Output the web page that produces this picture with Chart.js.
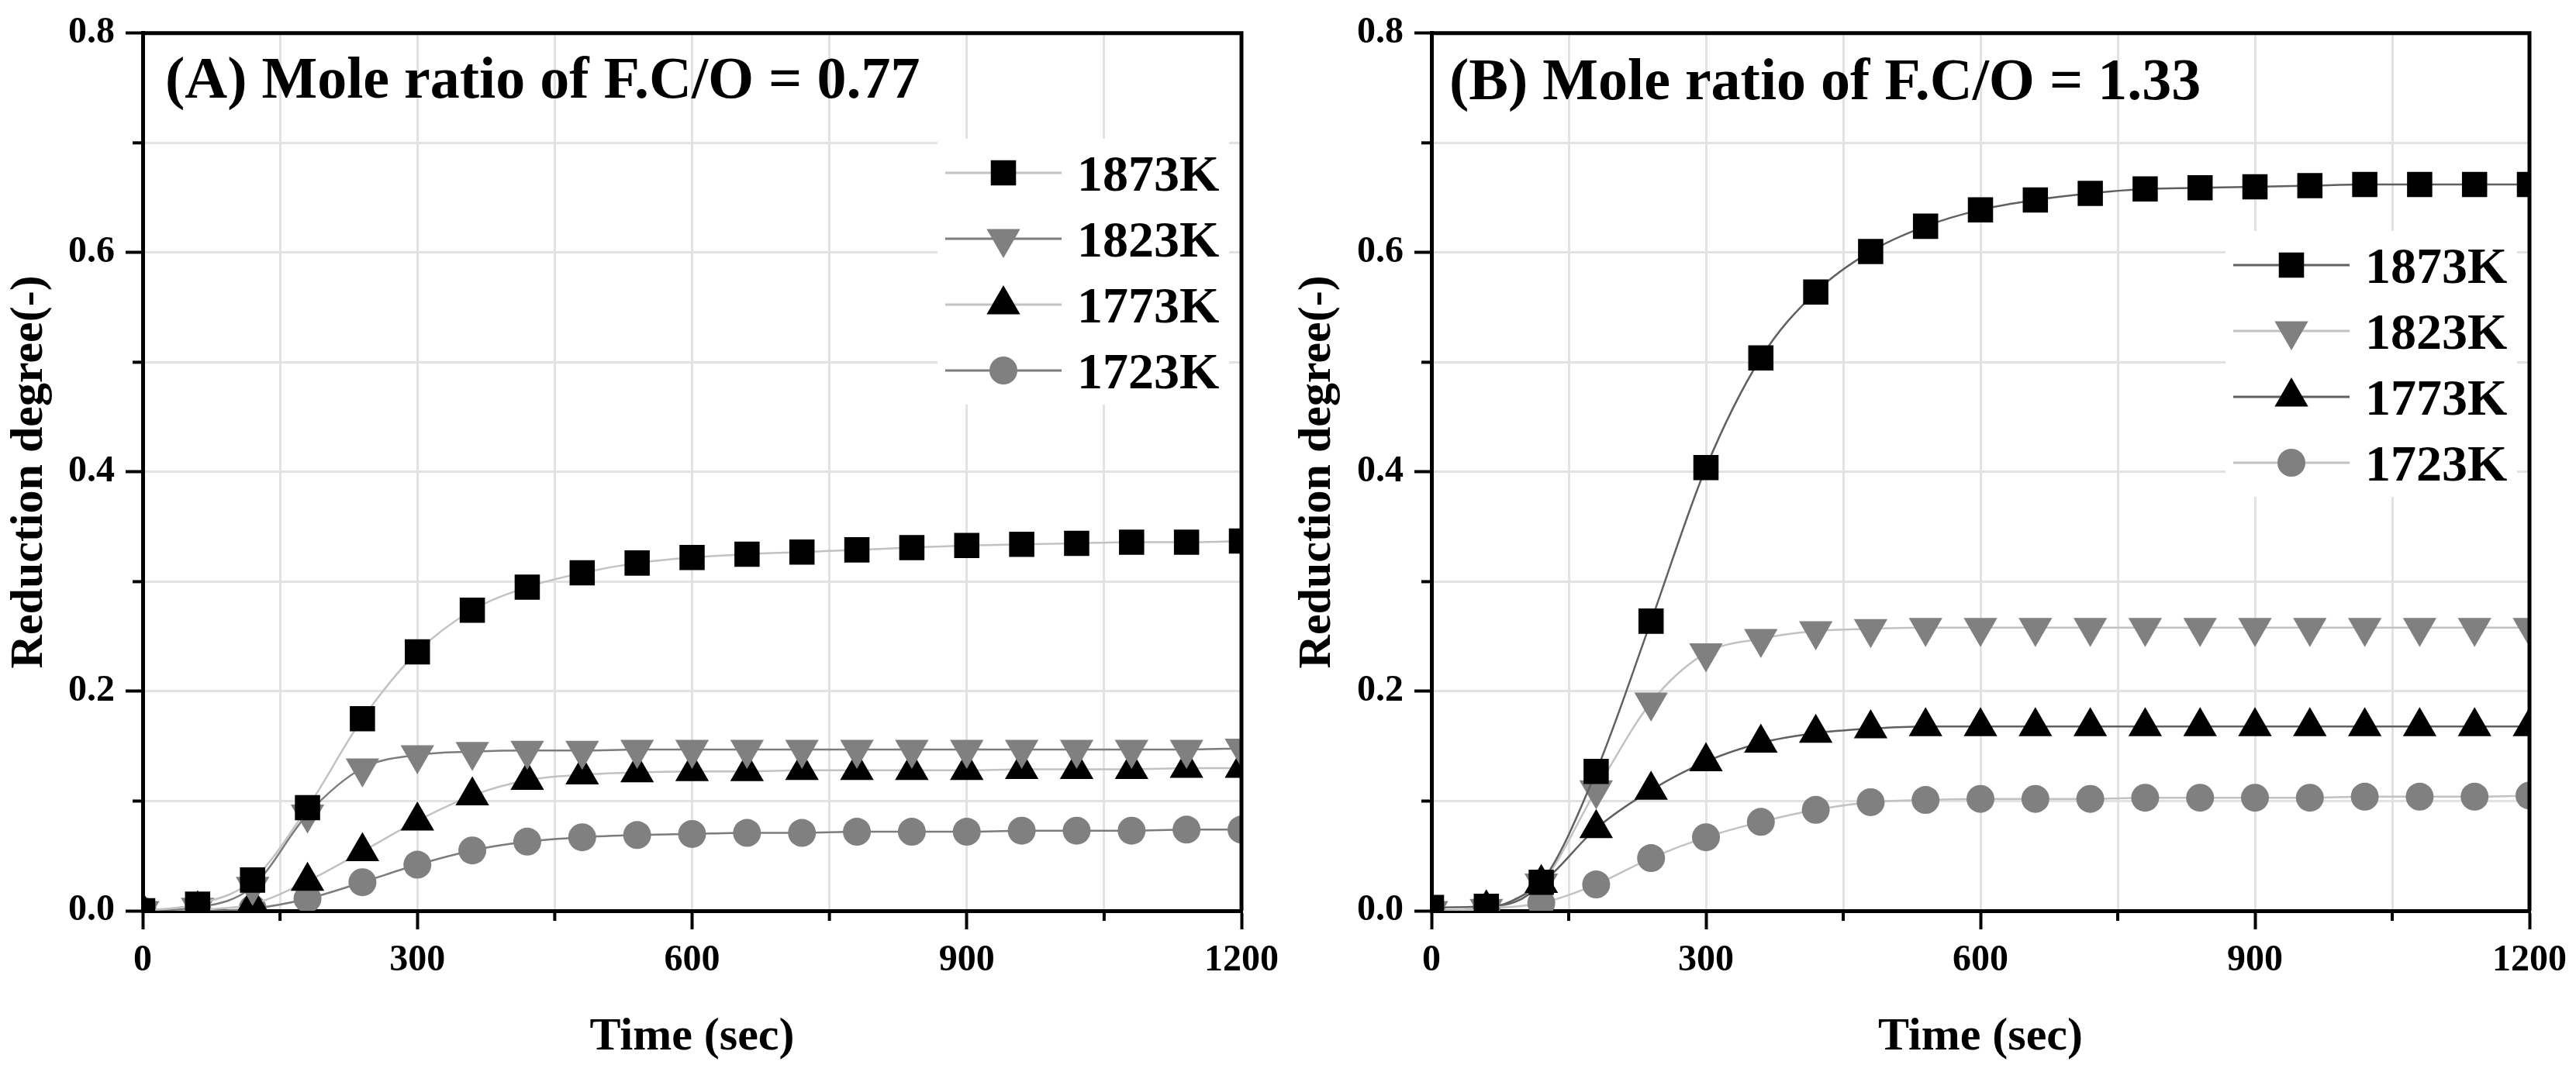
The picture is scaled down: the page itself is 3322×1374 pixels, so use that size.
<!DOCTYPE html>
<html>
<head>
<meta charset="utf-8">
<script src="https://cdn.jsdelivr.net/npm/chart.js@4.4.1/dist/chart.umd.min.js"></script>
<style>
    html, body { margin: 0; padding: 0; background: #fff; }
    #wrap { position: relative; width: 3322px; height: 1374px; }
    .panel { position: absolute; top: 0; width: 1661px; height: 1374px; }
</style>
</head>
<body>
<div id="wrap">
    <div class="panel" style="left:0"><canvas id="chartA"></canvas></div>
    <div class="panel" style="left:1661px"><canvas id="chartB"></canvas></div>
</div>
<script>
const timeSec = [0, 60, 120, 180, 240, 300, 360, 420, 480, 540, 600, 660, 720, 780, 840, 900, 960, 1020, 1080, 1140, 1200];
const tempLabels = ['1873K', '1823K', '1773K', '1723K'];
const panelTitles = ['(A) Mole ratio of F.C/O = 0.77', '(B) Mole ratio of F.C/O = 1.33'];
const xAxisTitle = 'Time (sec)';
const yAxisTitle = 'Reduction degree(-)';

// (A) F.C/O = 0.77
const a1873 = [0.000, 0.006, 0.028, 0.094, 0.175, 0.236, 0.274, 0.295, 0.308, 0.317, 0.322, 0.325, 0.327, 0.329, 0.331, 0.333, 0.334, 0.335, 0.336, 0.336, 0.337];
const a1823 = [0.000, 0.003, 0.022, 0.088, 0.130, 0.142, 0.145, 0.146, 0.146, 0.147, 0.147, 0.147, 0.147, 0.147, 0.147, 0.147, 0.147, 0.147, 0.147, 0.147, 0.148];
const a1773 = [0.000, 0.001, 0.006, 0.027, 0.054, 0.082, 0.105, 0.119, 0.124, 0.126, 0.127, 0.127, 0.128, 0.128, 0.128, 0.128, 0.129, 0.129, 0.129, 0.130, 0.130];
const a1723 = [0.000, 0.000, 0.002, 0.011, 0.026, 0.042, 0.055, 0.063, 0.067, 0.069, 0.070, 0.071, 0.071, 0.072, 0.072, 0.072, 0.073, 0.073, 0.073, 0.074, 0.074];

// (B) F.C/O = 1.33
const b1873 = [0.003, 0.004, 0.026, 0.127, 0.264, 0.404, 0.504, 0.564, 0.601, 0.624, 0.639, 0.648, 0.654, 0.658, 0.659, 0.660, 0.661, 0.662, 0.662, 0.662, 0.662];
const b1823 = [0.000, 0.002, 0.025, 0.110, 0.190, 0.235, 0.248, 0.255, 0.257, 0.258, 0.258, 0.258, 0.258, 0.258, 0.258, 0.258, 0.258, 0.258, 0.258, 0.258, 0.258];
const b1773 = [0.000, 0.002, 0.025, 0.075, 0.110, 0.136, 0.153, 0.162, 0.166, 0.168, 0.168, 0.168, 0.168, 0.168, 0.168, 0.168, 0.168, 0.168, 0.168, 0.168, 0.168];
const b1723 = [0.000, 0.002, 0.007, 0.024, 0.048, 0.067, 0.081, 0.092, 0.099, 0.101, 0.102, 0.102, 0.102, 0.103, 0.103, 0.103, 0.103, 0.104, 0.104, 0.104, 0.105];

const FONT = "'Liberation Serif', 'Times New Roman', serif";
const MARKERS = [
    { style: 'rect', rot: 0, r: 23, color: '#000000' },
    { style: 'triangle', rot: 180, r: 25, color: '#808080' },
    { style: 'triangle', rot: 0, r: 25, color: '#000000' },
    { style: 'circle', rot: 0, r: 18, color: '#808080' }
];
const LIGHT = '#c2c2c2';
const GRID = '#e2e2e2';

Chart.defaults.font.family = FONT;
Chart.defaults.font.weight = 'bold';
Chart.defaults.color = '#000';

const panelDeco = {
    id: 'panelDeco',
    beforeDatasetsDraw(chart, args, opts) {
        const a = chart.chartArea;
        const ctx = chart.ctx;
        const n = chart.data.datasets.length;
        ctx.save();
        ctx.fillStyle = '#fff';
        ctx.fillRect(a.right - 392, opts.legendTop - 44, 376, (n - 1) * 85 + 88);
        ctx.restore();
    },
    afterDatasetsDraw(chart, args, opts) {
        const a = chart.chartArea;
        const ctx = chart.ctx;
        ctx.save();

        // legend
        chart.data.datasets.forEach((ds, i) => {
            const y = opts.legendTop + i * 85;
            const x0 = a.right - 382;
            ctx.strokeStyle = ds.borderColor;
            ctx.lineWidth = 3;
            ctx.beginPath();
            ctx.moveTo(x0, y);
            ctx.lineTo(x0 + 150, y);
            ctx.stroke();
            ctx.fillStyle = ds.pointBackgroundColor;
            Chart.helpers.drawPoint(ctx, {
                pointStyle: ds.pointStyle, rotation: ds.pointRotation,
                radius: ds.pointRadius, borderWidth: 0
            }, x0 + 75, y);
            ctx.fillStyle = '#000';
            ctx.font = 'bold 66px ' + FONT;
            ctx.textAlign = 'left';
            ctx.textBaseline = 'alphabetic';
            ctx.fillText(ds.label, a.right - 212, y + 23);
        });

        // minor tick marks
        ctx.strokeStyle = '#000';
        ctx.lineWidth = 4;
        const xs = chart.scales.x, ys = chart.scales.y;
        xs.ticks.forEach(t => {
            if (Math.round(t.value) % 300 !== 0) {
                const px = xs.getPixelForValue(t.value);
                ctx.beginPath();
                ctx.moveTo(px, a.bottom);
                ctx.lineTo(px, a.bottom + 13);
                ctx.stroke();
            }
        });
        ys.ticks.forEach(t => {
            if (Math.round(t.value * 10) % 2 !== 0) {
                const py = ys.getPixelForValue(t.value);
                ctx.beginPath();
                ctx.moveTo(a.left, py);
                ctx.lineTo(a.left - 13, py);
                ctx.stroke();
            }
        });

        // top and right frame
        ctx.lineWidth = 5;
        ctx.beginPath();
        ctx.moveTo(a.left - 2, a.top);
        ctx.lineTo(a.right, a.top);
        ctx.lineTo(a.right, a.bottom);
        ctx.stroke();

        // panel title
        ctx.fillStyle = '#000';
        ctx.font = 'bold 76px ' + FONT;
        ctx.textAlign = 'left';
        ctx.textBaseline = 'alphabetic';
        ctx.fillText(opts.title, a.left + opts.titleX, opts.titleY);
        ctx.restore();
    }
};

function makeDatasets(series, lineColors) {
    return series.map((vals, i) => ({
        label: tempLabels[i],
        data: vals.map((v, j) => ({ x: timeSec[j], y: v })),
        borderColor: lineColors[i],
        borderWidth: 2.5,
        cubicInterpolationMode: 'monotone',
        pointStyle: MARKERS[i].style,
        pointRotation: MARKERS[i].rot,
        pointRadius: MARKERS[i].r,
        pointHoverRadius: MARKERS[i].r,
        pointBackgroundColor: MARKERS[i].color,
        pointBorderWidth: 0,
        clip: 0
    }));
}

function makeChart(id, series, lineColors, deco, yWidth, padRight) {
    return new Chart(document.getElementById(id), {
        type: 'line',
        data: { datasets: makeDatasets(series, lineColors) },
        plugins: [panelDeco],
        options: {
            responsive: true,
            maintainAspectRatio: false,
            animation: false,
            layout: { padding: { left: 0, right: padRight, top: 31, bottom: 0 } },
            plugins: {
                legend: { display: false },
                tooltip: { enabled: false },
                panelDeco: deco
            },
            scales: {
                x: {
                    type: 'linear',
                    min: 0, max: 1200,
                    afterFit: s => { s.height = 199; },
                    border: { display: true, color: '#000', width: 5 },
                    grid: {
                        color: c => (c.tick && (c.tick.value === 0 || c.tick.value === 1200)) ? 'rgba(0,0,0,0)' : GRID,
                        lineWidth: 3,
                        tickLength: 24,
                        tickWidth: 4,
                        tickColor: c => (c.tick && Math.round(c.tick.value) % 300 === 0) ? '#000' : 'rgba(0,0,0,0)'
                    },
                    ticks: {
                        stepSize: 150,
                        padding: 12,
                        maxRotation: 0,
                        autoSkip: false,
                        font: { size: 48, weight: 'bold' },
                        callback: v => (Math.round(v) % 300 === 0 ? String(v) : '')
                    },
                    title: {
                        display: true, text: xAxisTitle,
                        font: { size: 60, weight: 'bold' },
                        padding: { top: 0, bottom: 0 }
                    }
                },
                y: {
                    min: 0, max: 0.8,
                    afterFit: s => { s.width = yWidth; },
                    border: { display: true, color: '#000', width: 5 },
                    grid: {
                        color: c => (c.tick && (Math.abs(c.tick.value) < 1e-6 || Math.abs(c.tick.value - 0.8) < 1e-6)) ? 'rgba(0,0,0,0)' : GRID,
                        lineWidth: 3,
                        tickLength: 22,
                        tickWidth: 4,
                        tickColor: c => (c.tick && Math.round(c.tick.value * 10) % 2 === 0) ? '#000' : 'rgba(0,0,0,0)'
                    },
                    ticks: {
                        stepSize: 0.1,
                        padding: 14,
                        autoSkip: false,
                        font: { size: 48, weight: 'bold' },
                        callback: v => (Math.round(v * 10) % 2 === 0 ? v.toFixed(1) : '')
                    },
                    title: {
                        display: true, text: yAxisTitle,
                        font: { size: 60, weight: 'bold' },
                        padding: { top: 2, bottom: 0 }
                    }
                }
            }
        }
    });
}

makeChart('chartA', [a1873, a1823, a1773, a1723], [LIGHT, '#7c7c7c', LIGHT, '#7c7c7c'],
    { title: panelTitles[0], titleX: 29, titleY: 126, legendTop: 223 }, 184, 59);
makeChart('chartB', [b1873, b1823, b1773, b1723], ['#606060', LIGHT, '#606060', LIGHT],
    { title: panelTitles[1], titleX: 23, titleY: 128, legendTop: 342 }, 185, 60);
</script>
</body>
</html>
